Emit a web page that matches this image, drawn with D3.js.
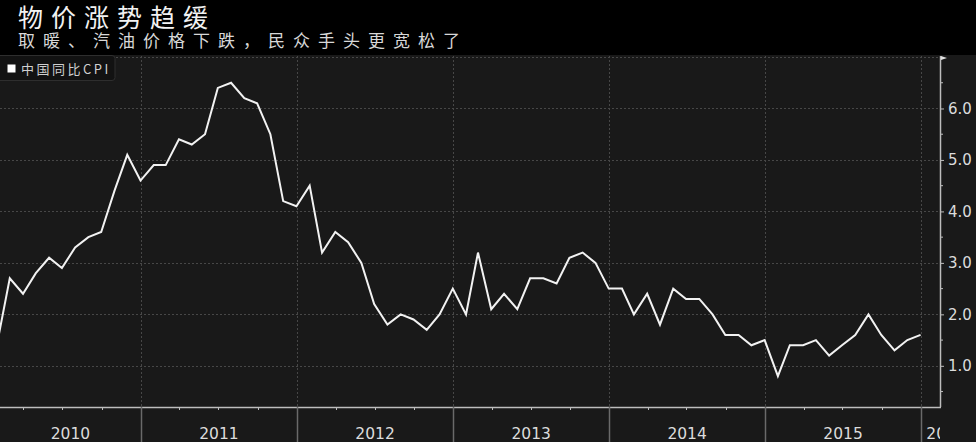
<!DOCTYPE html>
<html>
<head>
<meta charset="utf-8">
<script src="https://cdn.jsdelivr.net/npm/d3@7"></script>
<style>
  html, body { margin: 0; padding: 0; background: #191919; }
  svg { display: block; }
</style>
</head>
<body>
<svg id="chart" width="976" height="442"></svg>
<script>
// ---- Data ----
const title = "物价涨势趋缓";
const subtitle = "取暖、汽油价格下跌，民众手头更宽松了";
const seriesName = "中国同比CPI";
const years = [2010, 2011, 2012, 2013, 2014, 2015];
const cpi2010 = [1.5, 2.7, 2.4, 2.8, 3.1, 2.9, 3.3, 3.5, 3.6, 4.4, 5.1, 4.6];
const cpi2011 = [4.9, 4.9, 5.4, 5.3, 5.5, 6.4, 6.5, 6.2, 6.1, 5.5, 4.2, 4.1];
const cpi2012 = [4.5, 3.2, 3.6, 3.4, 3.0, 2.2, 1.8, 2.0, 1.9, 1.7, 2.0, 2.5];
const cpi2013 = [2.0, 3.2, 2.1, 2.4, 2.1, 2.7, 2.7, 2.6, 3.1, 3.2, 3.0, 2.5];
const cpi2014 = [2.5, 2.0, 2.4, 1.8, 2.5, 2.3, 2.3, 2.0, 1.6, 1.6, 1.4, 1.5];
const cpi2015 = [0.8, 1.4, 1.4, 1.5, 1.2, 1.4, 1.6, 2.0, 1.6, 1.3, 1.5, 1.6];
const yTicks = [1, 2, 3, 4, 5, 6];
const yTickLabels = ["1.0", "2.0", "3.0", "4.0", "5.0", "6.0"];
const yearLabels = ["2010", "2011", "2012", "2013", "2014", "2015", "2016"];

const allYears = [cpi2010, cpi2011, cpi2012, cpi2013, cpi2014, cpi2015];
const data = [];
allYears.forEach((arr, yi) => {
  arr.forEach((v, m) => {
    // monthly values plotted at the end of the month
    data.push({ date: new Date(years[yi], m + 1, 0), value: v });
  });
});

// ---- Layout ----
const W = 976, H = 442;
const plot = { left: 0, right: 940, top: 56, bottom: 407 };
const svg = d3.select("#chart");

const x = d3.scaleTime()
  .domain([new Date(2010, 0, 1), new Date(2016, 0, 1)])
  .range([-15, 921]);
const y = d3.scaleLinear().domain([0.2, 7.0]).range([407, 57]);

// backgrounds
svg.append("rect").attr("x", 0).attr("y", 0).attr("width", W).attr("height", H).attr("fill", "#191919");
svg.append("rect").attr("x", 0).attr("y", 0).attr("width", W).attr("height", 55).attr("fill", "#000");

// title
svg.append("text").attr("x", 18).attr("y", 27)
  .attr("fill", "#f2f2f2")
  .style("font-family", "'Noto Sans CJK SC', sans-serif")
  .style("font-size", "25px").style("letter-spacing", "8px")
  .text(title);
svg.append("text").attr("x", 18).attr("y", 47)
  .attr("fill", "#d8d8d8")
  .style("font-family", "'Noto Sans CJK SC', sans-serif")
  .style("font-size", "17px").style("letter-spacing", "8px")
  .text(subtitle);

// clip
svg.append("clipPath").attr("id", "plotClip")
  .append("rect").attr("x", plot.left).attr("y", plot.top)
  .attr("width", plot.right - plot.left).attr("height", plot.bottom - plot.top);
svg.append("clipPath").attr("id", "axisClip")
  .append("rect").attr("x", 0).attr("y", plot.bottom)
  .attr("width", plot.right).attr("height", H - plot.bottom);

// horizontal gridlines
const gridG = svg.append("g").attr("clip-path", "url(#plotClip)");
gridG.selectAll("line.h").data(yTicks.concat([7])).enter().append("line")
  .attr("x1", plot.left).attr("x2", plot.right)
  .attr("y1", d => Math.round(y(d)) + 0.5).attr("y2", d => Math.round(y(d)) + 0.5)
  .attr("stroke", "#474747").attr("stroke-width", 1).attr("stroke-dasharray", "2,2");

// vertical gridlines at year boundaries
const yearBounds = d3.range(2011, 2017).map(yr => new Date(yr, 0, 1));
gridG.selectAll("line.v").data(yearBounds).enter().append("line")
  .attr("x1", d => Math.round(x(d)) + 0.5).attr("x2", d => Math.round(x(d)) + 0.5)
  .attr("y1", plot.top).attr("y2", plot.bottom)
  .attr("stroke", "#474747").attr("stroke-width", 1).attr("stroke-dasharray", "2,2");

// line
const line = d3.line().x(d => x(d.date)).y(d => y(d.value));
gridG.append("path").datum(data)
  .attr("d", line).attr("fill", "none")
  .attr("stroke", "#f2f2f2").attr("stroke-width", 2).attr("stroke-linejoin", "miter");

// right axis
const yAxis = d3.axisRight(y).tickValues(yTicks).tickFormat((d, i) => yTickLabels[i]).tickSize(4).tickPadding(4);
const yAxisG = svg.append("g").attr("transform", `translate(${plot.right},0)`).call(yAxis);
yAxisG.select(".domain").attr("stroke", "#bdbdbd").attr("stroke-width", 1.5)
  .attr("d", `M0.5,${plot.top}V${plot.bottom}`);
yAxisG.selectAll(".tick line").attr("stroke", "#bdbdbd");
yAxisG.selectAll(".tick text").attr("fill", "#dcdcdc")
  .style("font-family", "'DejaVu Sans', sans-serif").style("font-size", "15px");
// minor y ticks
const minorY = d3.range(0.5, 7.0, 1);
svg.append("g").selectAll("line").data(minorY).enter().append("line")
  .attr("x1", plot.right).attr("x2", plot.right + 3)
  .attr("y1", d => y(d)).attr("y2", d => y(d))
  .attr("stroke", "#bdbdbd");
// top arrow marker
svg.append("path")
  .attr("d", `M${plot.right + 1},${plot.top} L${plot.right + 7},${plot.top + 2} L${plot.right + 1},${plot.top + 4} Z`)
  .attr("fill", "#e0e0e0");

// bottom axis line
svg.append("line").attr("x1", 0).attr("x2", plot.right + 1)
  .attr("y1", plot.bottom + 0.5).attr("y2", plot.bottom + 0.5)
  .attr("stroke", "#bdbdbd").attr("stroke-width", 1.5);

// quarterly minor ticks
const quarters = d3.timeMonth.range(new Date(2010, 0, 1), new Date(2016, 3, 1), 3)
  .filter(d => d.getMonth() !== 0);
const axisG = svg.append("g").attr("clip-path", "url(#axisClip)");
axisG.selectAll("line.q").data(quarters).enter().append("line")
  .attr("x1", d => Math.round(x(d)) + 0.5).attr("x2", d => Math.round(x(d)) + 0.5)
  .attr("y1", plot.bottom).attr("y2", plot.bottom + 3)
  .attr("stroke", "#bdbdbd");

// year separators below axis
axisG.selectAll("line.ys").data(yearBounds).enter().append("line")
  .attr("x1", d => Math.round(x(d)) + 0.5).attr("x2", d => Math.round(x(d)) + 0.5)
  .attr("y1", plot.bottom).attr("y2", H)
  .attr("stroke", "#6a6a6a").attr("stroke-width", 1.5);

// year labels
const yearStarts = d3.range(2010, 2017).map(yr => new Date(yr, 0, 1));
axisG.selectAll("text.yl").data(yearStarts).enter().append("text")
  .attr("x", (d, i) => {
    const a = Math.max(x(d), 0);
    const b = Math.min(x(new Date(d.getFullYear() + 1, 0, 1)), 971);
    return (a + b) / 2;
  })
  .attr("y", 439)
  .attr("text-anchor", "middle")
  .attr("fill", "#dcdcdc")
  .style("font-family", "'DejaVu Sans', sans-serif").style("font-size", "15.5px")
  .text((d, i) => yearLabels[i]);

// legend
const lg = svg.append("g");
lg.append("rect").attr("x", -4).attr("y", 55.5).attr("width", 119).attr("height", 25)
  .attr("rx", 3).attr("fill", "#121212").attr("stroke", "#2e2e2e");
lg.append("rect").attr("x", 7.5).attr("y", 64.5).attr("width", 8).attr("height", 8).attr("fill", "#fff");
lg.append("text").attr("x", 21).attr("y", 73.5)
  .attr("fill", "#d0d0d0")
  .style("font-family", "'Noto Sans CJK SC', sans-serif")
  .style("font-size", "13px").style("letter-spacing", "2.5px")
  .text(seriesName);
</script>
</body>
</html>
